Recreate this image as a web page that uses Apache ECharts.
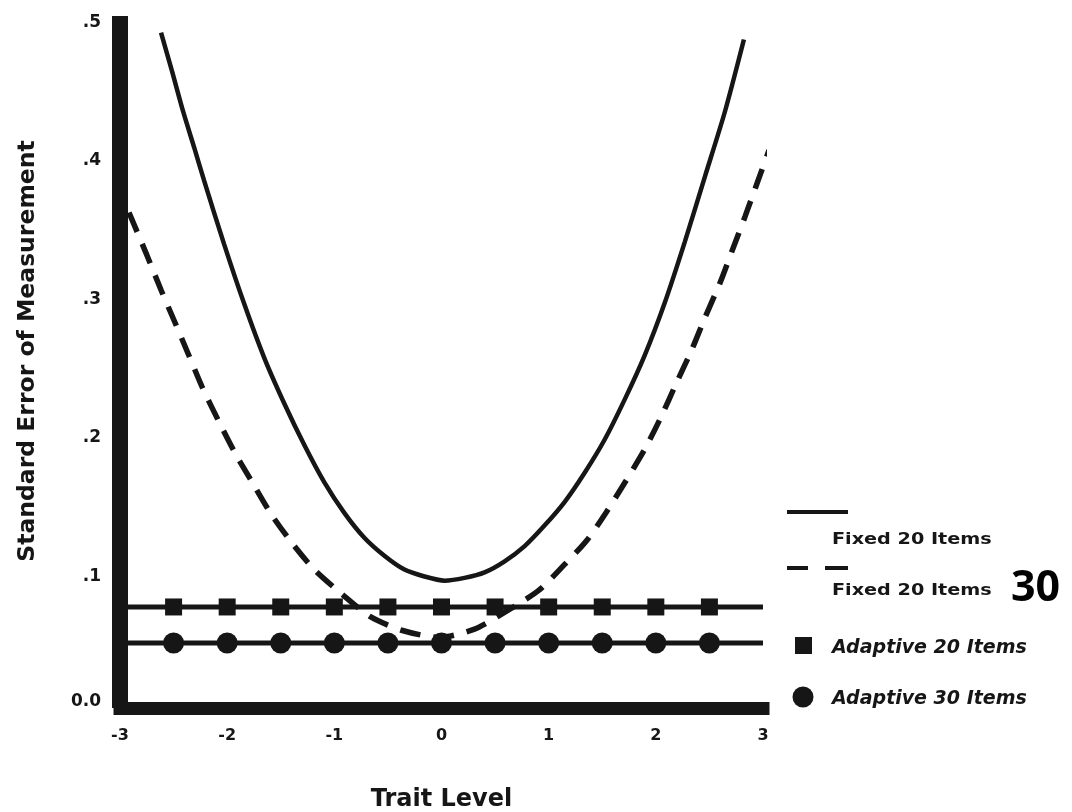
<!DOCTYPE html>
<html>
<head>
<meta charset="utf-8">
<script src="https://cdn.jsdelivr.net/npm/echarts@6/dist/echarts.min.js"></script>
<style>
  html, body { margin: 0; padding: 0; background: #ffffff; }
  #chart { width: 1072px; height: 812px; }
</style>
</head>
<body>
<div id="chart"></div>
<script>
// ---- data ----
const xTicks = [-3, -2, -1, 0, 1, 2, 3];
const yTickLabels = ['0.0', '.1', '.2', '.3', '.4', '.5'];

const traitFixed20 = [-2.617, -2.514, -2.411, -2.308, -2.215, -2.028, -1.841, -1.654, -1.467, -1.280, -1.093, -0.907, -0.720, -0.533, -0.346, -0.159, 0.028, 0.215, 0.402, 0.589, 0.776, 0.963, 1.150, 1.336, 1.523, 1.710, 1.897, 2.084, 2.271, 2.458, 2.645, 2.822];
const seFixed20    = [0.488, 0.460, 0.431, 0.405, 0.381, 0.335, 0.292, 0.253, 0.220, 0.190, 0.163, 0.141, 0.123, 0.110, 0.100, 0.095, 0.092, 0.094, 0.098, 0.106, 0.117, 0.132, 0.149, 0.170, 0.194, 0.223, 0.255, 0.293, 0.337, 0.384, 0.431, 0.483];

const traitFixed30 = [-2.916, -2.748, -2.617, -2.495, -2.364, -2.234, -2.084, -1.925, -1.766, -1.589, -1.393, -1.187, -0.925, -0.664, -0.364, -0.019, 0.308, 0.607, 0.907, 1.140, 1.355, 1.542, 1.720, 1.897, 2.047, 2.187, 2.336, 2.458, 2.598, 2.710, 2.832, 2.944, 3.056];
const seFixed30    = [0.358, 0.327, 0.302, 0.280, 0.256, 0.232, 0.208, 0.184, 0.163, 0.140, 0.119, 0.100, 0.082, 0.066, 0.056, 0.051, 0.057, 0.070, 0.085, 0.103, 0.121, 0.142, 0.164, 0.187, 0.210, 0.234, 0.259, 0.282, 0.307, 0.330, 0.355, 0.379, 0.403];

const traitAdaptive = [-3, -2.5, -2, -1.5, -1, -0.5, 0, 0.5, 1, 1.5, 2, 2.5, 3];
const seAdaptive20  = [0.073, 0.073, 0.073, 0.073, 0.073, 0.073, 0.073, 0.073, 0.073, 0.073, 0.073, 0.073, 0.073];
const seAdaptive30  = [0.047, 0.047, 0.047, 0.047, 0.047, 0.047, 0.047, 0.047, 0.047, 0.047, 0.047, 0.047, 0.047];

const seriesNames = ['Fixed 20 Items', 'Fixed 30 Items', 'Adaptive 20 Items', 'Adaptive 30 Items'];
const legendTexts = ['Fixed 20 Items', 'Fixed 20 Items', 'Adaptive 20 Items', 'Adaptive 30 Items'];

// ---- build ----
const INK = '#161616';
const FONT = 'DejaVu Sans';
const pair = (xs, ys) => xs.map((x, i) => [x, ys[i]]);
const isEnd = (v) => Math.abs(v[0]) === 3;

const chart = echarts.init(document.getElementById('chart'), null, { renderer: 'canvas' });

const option = {
  animation: false,
  backgroundColor: '#ffffff',
  grid: { left: 120, right: 309, top: 16, bottom: 104, containLabel: false, outerBoundsMode: 'none' },
  xAxis: {
    type: 'value', min: -3, max: 3, interval: 1,
    name: 'Trait Level', nameLocation: 'middle', nameGap: 80,
    nameTextStyle: { fontFamily: FONT, fontWeight: 'bold', fontSize: 24, color: INK },
    axisLine: { show: true, onZero: false, lineStyle: { color: INK, width: 13, cap: 'square' } },
    axisTick: { show: false },
    splitLine: { show: false },
    axisLabel: {
      margin: 20, fontFamily: FONT, fontWeight: 'bold', fontSize: 16, color: INK,
      formatter: (v) => (xTicks.indexOf(v) >= 0 ? String(v) : '')
    }
  },
  yAxis: {
    type: 'value', min: 0, max: 0.5, interval: 0.1,
    name: 'Standard Error of Measurement', nameLocation: 'middle', nameGap: 80,
    nameTextStyle: { fontFamily: FONT, fontWeight: 'bold', fontSize: 23.5, color: INK, padding: [0, 0, 0, 22] },
    axisLine: { show: true, onZero: false, lineStyle: { color: INK, width: 16, cap: 'butt' } },
    axisTick: { show: false },
    splitLine: { show: false },
    axisLabel: {
      margin: 19, color: INK,
      formatter: (v) => {
        const i = Math.round(v * 10);
        return (i === 0 ? '{z|' : '{l|') + yTickLabels[i] + '}';
      },
      rich: {
        l: { fontFamily: FONT, fontWeight: 'bold', fontSize: 17, color: INK, lineHeight: 30, verticalAlign: 'bottom' },
        z: { fontFamily: FONT, fontWeight: 'bold', fontSize: 17, color: INK, lineHeight: 30, verticalAlign: 'top' }
      }
    }
  },
  series: [
    {
      name: seriesNames[0], type: 'line', data: pair(traitFixed20, seFixed20),
      smooth: 0.25, showSymbol: false, z: 3,
      lineStyle: { color: INK, width: 4.5 }
    },
    {
      name: seriesNames[1], type: 'line', data: pair(traitFixed30, seFixed30),
      smooth: 0.25, showSymbol: false, z: 3, clip: false,
      lineStyle: { color: INK, width: 5.5, type: [21, 13] }
    },
    {
      name: seriesNames[2], type: 'line', data: pair(traitAdaptive, seAdaptive20),
      symbol: 'rect', symbolSize: (v) => (isEnd(v) ? 0 : 17), z: 4,
      itemStyle: { color: INK, borderWidth: 0 },
      lineStyle: { color: INK, width: 5 }
    },
    {
      name: seriesNames[3], type: 'line', data: pair(traitAdaptive, seAdaptive30),
      symbol: 'circle', symbolSize: (v) => (isEnd(v) ? 0 : 21), z: 4,
      itemStyle: { color: INK, borderWidth: 0 },
      lineStyle: { color: INK, width: 5 }
    }
  ],
  graphic: [
    // legend: Fixed 20 (solid)
    { type: 'line', shape: { x1: 787, y1: 512, x2: 848, y2: 512 }, style: { stroke: INK, lineWidth: 4 } },
    { type: 'text', x: 832, y: 540, scaleX: 1.2,
      style: { text: legendTexts[0], font: 'bold 16px "DejaVu Sans"', fill: INK, verticalAlign: 'middle' } },
    // legend: Fixed 30 (dashed)
    { type: 'line', shape: { x1: 787, y1: 568, x2: 808, y2: 568 }, style: { stroke: INK, lineWidth: 4 } },
    { type: 'line', shape: { x1: 825, y1: 568, x2: 848, y2: 568 }, style: { stroke: INK, lineWidth: 4 } },
    { type: 'text', x: 832, y: 591, scaleX: 1.2,
      style: { text: legendTexts[1], font: 'bold 16px "DejaVu Sans"', fill: INK, verticalAlign: 'middle' } },
    { type: 'text', x: 1011, y: 589,
      style: { text: '30', font: 'bold 43px "Noto Sans"', fill: '#000000', verticalAlign: 'middle' } },
    // legend: Adaptive 20 (square)
    { type: 'rect', shape: { x: 795, y: 637, width: 17, height: 17 }, style: { fill: INK } },
    { type: 'text', x: 832, y: 648,
      style: { text: legendTexts[2], font: 'italic bold 19px "DejaVu Sans"', fill: INK, verticalAlign: 'middle' } },
    // legend: Adaptive 30 (circle)
    { type: 'circle', shape: { cx: 803, cy: 697, r: 10.5 }, style: { fill: INK } },
    { type: 'text', x: 832, y: 699,
      style: { text: legendTexts[3], font: 'italic bold 19px "DejaVu Sans"', fill: INK, verticalAlign: 'middle' } }
  ]
};

chart.setOption(option);
</script>
</body>
</html>
